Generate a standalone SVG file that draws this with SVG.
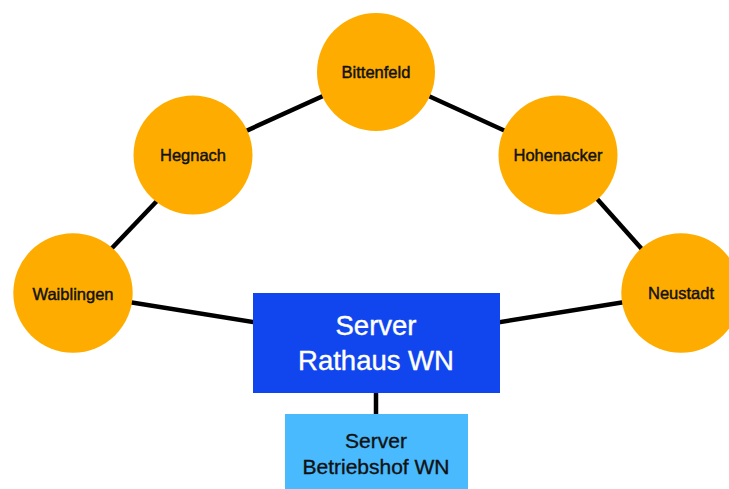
<svg xmlns="http://www.w3.org/2000/svg" width="729" height="489" viewBox="0 0 729 489">
<style>
.c{fill:#FEAD00}
.lbl{font-family:"Liberation Sans",Arial,sans-serif;font-size:16.5px;fill:#111;stroke:#111;stroke-width:0.45;text-anchor:middle}
.edge{stroke:#000;stroke-width:4.5;fill:none}
.big{font-family:"Liberation Sans",Arial,sans-serif;text-anchor:middle}
</style>
<rect width="729" height="489" fill="#fff"/>
<g id="connectors">
<line class="edge" x1="193" y1="155" x2="376" y2="72"/>
<line class="edge" x1="376" y1="72" x2="558" y2="155"/>
<line class="edge" x1="165" y1="192.5" x2="103" y2="257.5"/>
<line class="edge" x1="558" y1="155" x2="681" y2="293"/>
<line class="edge" x1="73" y1="293" x2="376" y2="342"/>
<line class="edge" x1="681" y1="293" x2="376" y2="342"/>
<line class="edge" x1="376" y1="380" x2="376" y2="420"/>
</g>
<g id="bittenfeld"><circle class="c" cx="376" cy="72" r="59"/><text class="lbl" x="376" y="78">Bittenfeld</text></g>
<g id="hegnach"><circle class="c" cx="193" cy="155" r="59.5"/><text class="lbl" x="193" y="161">Hegnach</text></g>
<g id="hohenacker"><circle class="c" cx="558" cy="155" r="59.5"/><text class="lbl" x="558" y="161">Hohenacker</text></g>
<g id="waiblingen"><circle class="c" cx="73" cy="293" r="59.7"/><text class="lbl" x="73" y="299.5">Waiblingen</text></g>
<g id="neustadt"><circle class="c" cx="681" cy="293" r="59.7"/><text class="lbl" x="681" y="299">Neustadt</text></g>
<g id="server-rathaus"><rect x="253" y="293" width="247" height="100" fill="#1146EE"/>
<text class="big" x="376" y="335" font-size="27.5" fill="#fff" stroke="#fff" stroke-width="0.4">Server</text>
<text class="big" x="376" y="370" font-size="27.5" fill="#fff" stroke="#fff" stroke-width="0.4">Rathaus WN</text></g>
<g id="server-betriebshof"><rect x="285" y="414" width="183" height="75" fill="#48BAFD"/>
<text class="big" x="376" y="448" font-size="21" fill="#111" stroke="#111" stroke-width="0.35">Server</text>
<text class="big" x="376" y="474" font-size="21" fill="#111" stroke="#111" stroke-width="0.35">Betriebshof WN</text></g>
</svg>
